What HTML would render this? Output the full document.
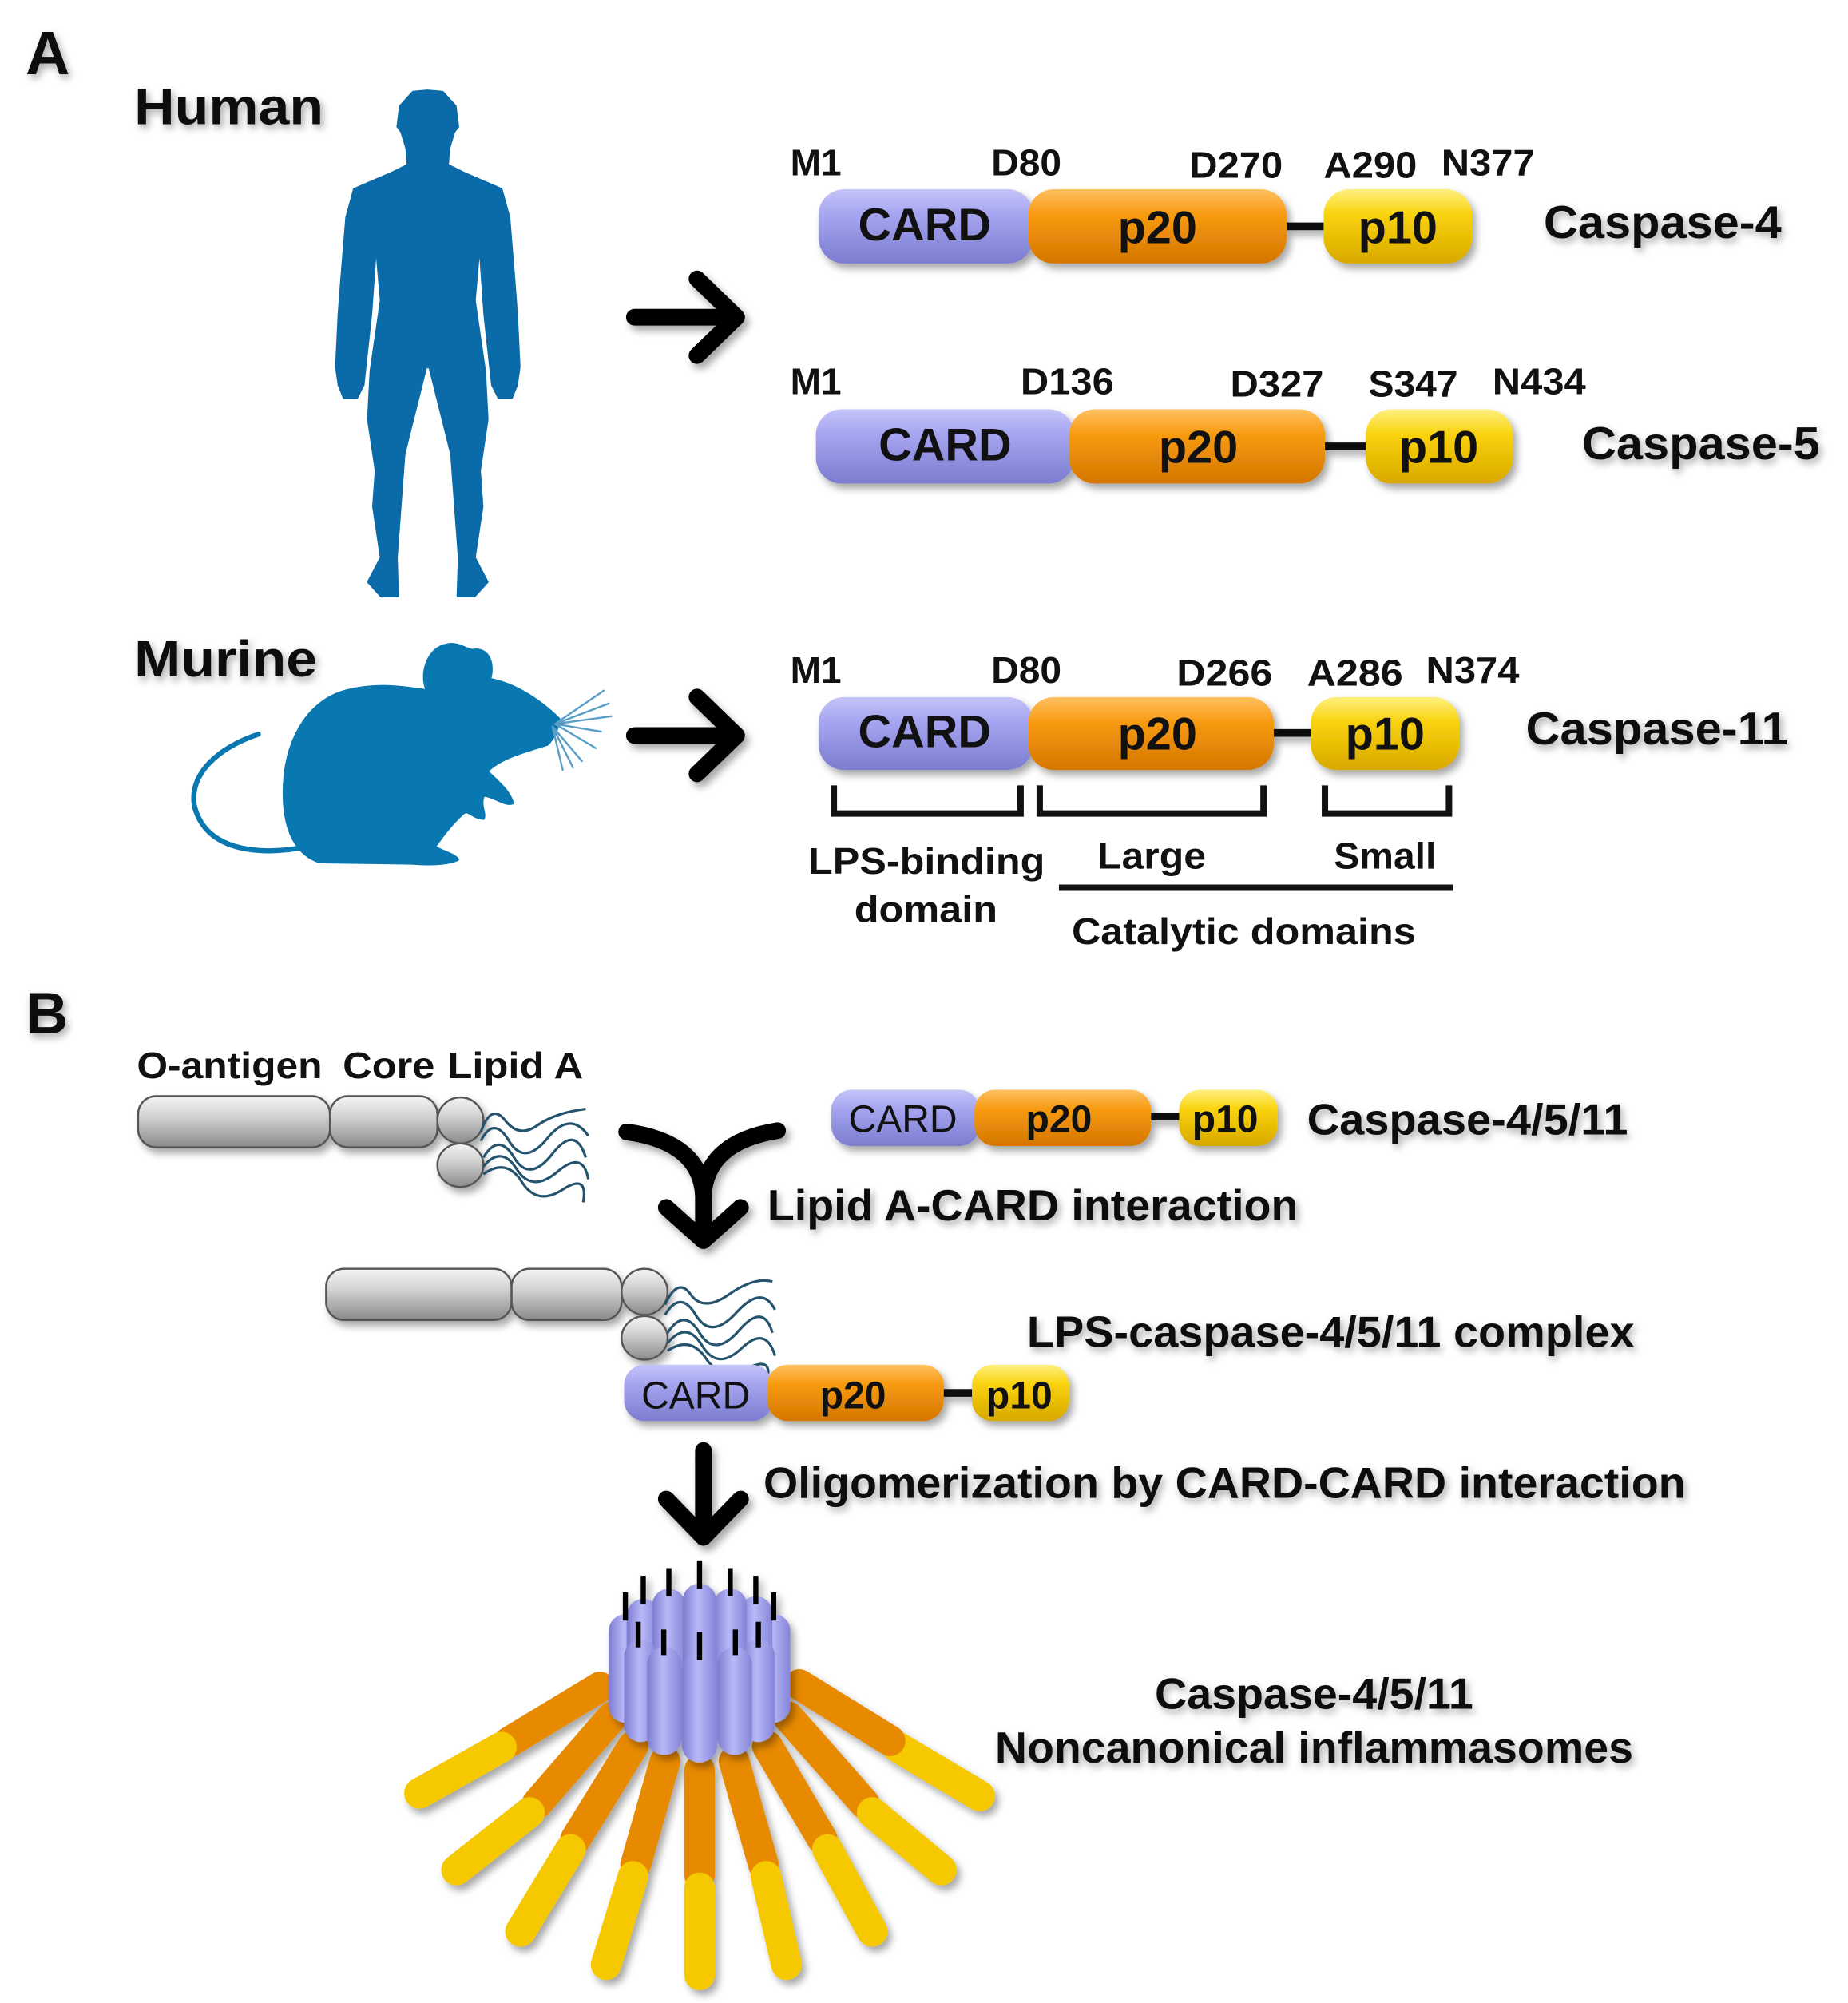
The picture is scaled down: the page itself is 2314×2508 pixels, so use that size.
<!DOCTYPE html>
<html><head><meta charset="utf-8"><style>
html,body{margin:0;padding:0;background:#fff;}
svg{display:block;}
text{font-family:"Liberation Sans",Arial,sans-serif;font-weight:bold;fill:#111;}
</style></head><body>
<svg width="2314" height="2508" viewBox="0 0 1445 1566" preserveAspectRatio="none" xmlns="http://www.w3.org/2000/svg">
<defs>
<linearGradient id="gP" x1="0" y1="0" x2="0" y2="1"><stop offset="0" stop-color="#c4c4f8"/><stop offset="0.35" stop-color="#a4a4f0"/><stop offset="1" stop-color="#7c7cd0"/></linearGradient>
<linearGradient id="gO" x1="0" y1="0" x2="0" y2="1"><stop offset="0" stop-color="#ffc060"/><stop offset="0.35" stop-color="#f79a10"/><stop offset="1" stop-color="#d47600"/></linearGradient>
<linearGradient id="gY" x1="0" y1="0" x2="0" y2="1"><stop offset="0" stop-color="#fff080"/><stop offset="0.35" stop-color="#f9d20a"/><stop offset="1" stop-color="#d8a800"/></linearGradient>
<linearGradient id="gG" x1="0" y1="0" x2="0" y2="1"><stop offset="0" stop-color="#f4f4f4"/><stop offset="0.4" stop-color="#d2d2d2"/><stop offset="1" stop-color="#8a8a8a"/></linearGradient>
<linearGradient id="gPh" x1="0" y1="0" x2="1" y2="0"><stop offset="0" stop-color="#7c7cd0"/><stop offset="0.45" stop-color="#b8b8f8"/><stop offset="1" stop-color="#8484d8"/></linearGradient>
<filter id="sh" x="-10%" y="-30%" width="130%" height="180%"><feDropShadow dx="3" dy="4" stdDeviation="3" flood-color="#000" flood-opacity="0.35"/></filter>
<filter id="ts" x="-10%" y="-40%" width="130%" height="200%"><feDropShadow dx="2" dy="3" stdDeviation="3" flood-color="#000" flood-opacity="0.35"/></filter>
</defs>

<g filter="url(#ts)" lengthAdjust="spacingAndGlyphs">
<text x="20" y="58" font-size="48">A</text>
<text x="105" y="97" font-size="40" textLength="148" lengthAdjust="spacingAndGlyphs">Human</text>
<text x="105" y="529" font-size="40" textLength="143" lengthAdjust="spacingAndGlyphs">Murine</text>
<text x="20" y="808" font-size="46">B</text>
<text x="1207" y="186" font-size="36" textLength="186" lengthAdjust="spacingAndGlyphs">Caspase-4</text>
<text x="1237" y="359" font-size="36" textLength="186" lengthAdjust="spacingAndGlyphs">Caspase-5</text>
<text x="1193" y="582" font-size="36" textLength="205" lengthAdjust="spacingAndGlyphs">Caspase-11</text>
</g>
<g font-size="29">
<text x="618" y="137" textLength="40" lengthAdjust="spacingAndGlyphs">M1</text><text x="775" y="137" textLength="55" lengthAdjust="spacingAndGlyphs">D80</text><text x="930" y="139" textLength="73" lengthAdjust="spacingAndGlyphs">D270</text><text x="1035" y="139" textLength="73" lengthAdjust="spacingAndGlyphs">A290</text><text x="1127" y="137" textLength="73" lengthAdjust="spacingAndGlyphs">N377</text>
<text x="618" y="308" textLength="40" lengthAdjust="spacingAndGlyphs">M1</text><text x="798" y="308" textLength="73" lengthAdjust="spacingAndGlyphs">D136</text><text x="962" y="310" textLength="73" lengthAdjust="spacingAndGlyphs">D327</text><text x="1070" y="310" textLength="70" lengthAdjust="spacingAndGlyphs">S347</text><text x="1167" y="308" textLength="73" lengthAdjust="spacingAndGlyphs">N434</text>
<text x="618" y="534" textLength="40" lengthAdjust="spacingAndGlyphs">M1</text><text x="775" y="534" textLength="55" lengthAdjust="spacingAndGlyphs">D80</text><text x="920" y="536" textLength="75" lengthAdjust="spacingAndGlyphs">D266</text><text x="1022" y="536" textLength="75" lengthAdjust="spacingAndGlyphs">A286</text><text x="1115" y="534" textLength="73" lengthAdjust="spacingAndGlyphs">N374</text>
</g>

<path fill="#0b6aa8" stroke="#0b6aa8" stroke-width="2" stroke-linejoin="round" d="M334,71 L346,72 L356,83 L358,99 L355,103 L351,116 L350,129 L362,135 L392,148 L398,170 L402,219 L404,246 L406,287 L404,301 L400,311 L390,311 L385,301 L379,246 L375,189 L371,235 L379,290 L381,328 L375,368 L377,396 L371,436 L381,455 L371,466 L358,466 L359,436 L355,382 L353,355 L336,287 L333,287 L316,355 L314,382 L310,436 L311,466 L298,466 L288,455 L298,436 L292,396 L294,368 L288,328 L290,290 L298,235 L294,189 L290,246 L284,301 L279,311 L269,311 L265,301 L263,287 L265,246 L267,219 L271,170 L277,148 L307,135 L319,129 L318,116 L314,103 L311,99 L313,83 L323,72 Z"/>

<g fill="#0a78b0" stroke="#0a78b0" stroke-linejoin="round">
<path stroke-width="2" d="M334,540 C328,528 334,506 350,504 C360,502 366,510 372,508 C384,508 386,522 383,531 C405,535 425,550 437,562 C436,572 432,578 428,582 C410,588 392,592 381,603 C390,612 398,618 401,628 C394,630 386,622 378,622 C375,630 380,636 378,640 C370,640 366,632 362,636 C352,645 345,655 340,662 C346,666 356,668 358,672 C350,676 335,676 322,675 L250,674 C232,668 222,650 222,620 C222,580 240,548 271,540 C295,534 315,537 334,540 Z"/>
<path fill="none" stroke-width="4" stroke-linecap="round" d="M240,662 C200,670 160,664 152,630 C148,605 170,585 202,574"/>
</g>
<g stroke="#5a9ec8" stroke-width="1.5" fill="none" stroke-linecap="round">
<path d="M434,566 L472,540 M434,566 L476,550 M434,566 L478,560 M434,566 L470,572 M434,566 L466,585 M432,568 L455,595 M432,568 L448,600 M432,568 L440,602"/>
</g>

<g stroke="#000" stroke-width="13" fill="none" stroke-linecap="round" stroke-linejoin="round" filter="url(#sh)">
<path d="M496,248 L570,248 M545,218 L576,248 L545,278"/>
<path d="M496,575 L570,575 M545,545 L576,575 L545,605"/>
</g>

<g filter="url(#sh)">
<line x1="1000" y1="177" x2="1040" y2="177" stroke="#111" stroke-width="6"/>
<rect x="640" y="148" width="168" height="58" rx="20" fill="url(#gP)"/>
<rect x="804" y="148" width="202" height="58" rx="20" fill="url(#gO)"/>
<rect x="1035" y="148" width="116" height="58" rx="20" fill="url(#gY)"/>
<line x1="1030" y1="349" x2="1072" y2="349" stroke="#111" stroke-width="6"/>
<rect x="638" y="320" width="202" height="58" rx="20" fill="url(#gP)"/>
<rect x="836" y="320" width="200" height="58" rx="20" fill="url(#gO)"/>
<rect x="1068" y="320" width="115" height="58" rx="20" fill="url(#gY)"/>
<line x1="990" y1="573" x2="1030" y2="573" stroke="#111" stroke-width="6"/>
<rect x="640" y="545" width="168" height="57" rx="20" fill="url(#gP)"/>
<rect x="804" y="545" width="192" height="57" rx="20" fill="url(#gO)"/>
<rect x="1025" y="545" width="116" height="57" rx="20" fill="url(#gY)"/>
</g>
<g font-size="36" text-anchor="middle">
<text x="723" y="188">CARD</text><text x="905" y="190">p20</text><text x="1093" y="190">p10</text>
<text x="739" y="360">CARD</text><text x="937" y="362">p20</text><text x="1125" y="362">p10</text>
<text x="723" y="584">CARD</text><text x="905" y="586">p20</text><text x="1083" y="586">p10</text>
</g>
<g stroke="#111" stroke-width="5" fill="none">
<path d="M652,614 L652,636 L798,636 L798,614"/>
<path d="M813,614 L813,636 L988,636 L988,614"/>
<path d="M1036,614 L1036,636 L1133,636 L1133,614"/>
<line x1="828" y1="694" x2="1136" y2="694"/>
</g>
<g font-size="29">
<text x="632" y="683" textLength="185" lengthAdjust="spacingAndGlyphs">LPS-binding</text><text x="668" y="721" textLength="112" lengthAdjust="spacingAndGlyphs">domain</text>
<text x="858" y="679" textLength="85" lengthAdjust="spacingAndGlyphs">Large</text><text x="1043" y="679" textLength="80" lengthAdjust="spacingAndGlyphs">Small</text>
<text x="838" y="738" textLength="269" lengthAdjust="spacingAndGlyphs">Catalytic domains</text>
</g>

<g font-size="29">
<text x="107" y="843" textLength="145" lengthAdjust="spacingAndGlyphs">O-antigen</text>
<text x="268" y="843" textLength="72" lengthAdjust="spacingAndGlyphs">Core</text>
<text x="350" y="843" textLength="106" lengthAdjust="spacingAndGlyphs">Lipid A</text>
</g>

<g filter="url(#sh)" stroke="#555" stroke-width="1.5">
<rect x="108" y="857" width="150" height="40" rx="14" fill="url(#gG)"/>
<rect x="258" y="857" width="84" height="40" rx="14" fill="url(#gG)"/>
<ellipse cx="360" cy="876" rx="18" ry="18" fill="url(#gG)"/>
<ellipse cx="360" cy="911" rx="18" ry="17" fill="url(#gG)"/>
<rect x="255" y="992" width="145" height="40" rx="14" fill="url(#gG)"/>
<rect x="400" y="992" width="86" height="40" rx="14" fill="url(#gG)"/>
<ellipse cx="504" cy="1010" rx="18" ry="18" fill="url(#gG)"/>
<ellipse cx="504" cy="1046" rx="18" ry="17" fill="url(#gG)"/>
</g>
<g stroke="#24536e" stroke-width="2" fill="none">
<path d="M376,885 Q384,862 395,876 T420,880 T458,867"/>
<path d="M376,892 Q386,872 398,892 T428,890 T460,888"/>
<path d="M378,905 Q390,885 402,905 T432,902 T458,905"/>
<path d="M378,912 Q392,895 404,914 T436,916 T460,922"/>
<path d="M378,918 Q396,905 408,924 T440,930 T456,940"/>
<path d="M520,1020 Q530,998 540,1012 T570,1012 T604,1002"/>
<path d="M520,1028 Q532,1008 544,1028 T576,1026 T606,1024"/>
<path d="M522,1042 Q535,1022 547,1042 T578,1040 T604,1042"/>
<path d="M522,1050 Q537,1032 549,1052 T580,1054 T606,1060"/>
<path d="M522,1056 Q540,1044 552,1062 T584,1070 T600,1078"/>
</g>

<g stroke="#000" stroke-width="13" fill="none" stroke-linecap="round" stroke-linejoin="round" filter="url(#sh)">
<path d="M490,885 Q548,893 550,935 L550,968"/>
<path d="M608,884 Q552,893 550,935"/>
<path d="M521,944 L550,970 L579,944"/>
<path d="M550,1134 L550,1200 M521,1172 L550,1202 L579,1172"/>
</g>

<g filter="url(#sh)">
<line x1="892" y1="873" x2="926" y2="873" stroke="#111" stroke-width="6"/>
<rect x="650" y="852" width="116" height="44" rx="16" fill="url(#gP)"/>
<rect x="762" y="852" width="138" height="44" rx="16" fill="url(#gO)"/>
<rect x="922" y="852" width="77" height="44" rx="16" fill="url(#gY)"/>
<line x1="732" y1="1089" x2="764" y2="1089" stroke="#111" stroke-width="6"/>
<rect x="488" y="1067" width="116" height="44" rx="16" fill="url(#gP)"/>
<rect x="600" y="1067" width="138" height="44" rx="16" fill="url(#gO)"/>
<rect x="760" y="1067" width="76" height="44" rx="16" fill="url(#gY)"/>
</g>
<g font-size="30" text-anchor="middle">
<text x="706" y="885" style="font-weight:normal">CARD</text><text x="828" y="885">p20</text><text x="958" y="885">p10</text>
<text x="544" y="1101" style="font-weight:normal">CARD</text><text x="667" y="1101">p20</text><text x="797" y="1101">p10</text>
</g>

<g filter="url(#ts)" font-size="34">
<text x="1022" y="887" textLength="251" lengthAdjust="spacingAndGlyphs">Caspase-4/5/11</text>
<text x="600" y="954" textLength="415" lengthAdjust="spacingAndGlyphs">Lipid A-CARD interaction</text>
<text x="803" y="1053" textLength="475" lengthAdjust="spacingAndGlyphs">LPS-caspase-4/5/11 complex</text>
<text x="597" y="1171" textLength="721" lengthAdjust="spacingAndGlyphs">Oligomerization by CARD-CARD interaction</text>
<text x="903" y="1336" textLength="249" lengthAdjust="spacingAndGlyphs">Caspase-4/5/11</text>
<text x="778" y="1378" textLength="499" lengthAdjust="spacingAndGlyphs">Noncanonical inflammasomes</text>
</g>

<g filter="url(#sh)" stroke-linecap="round" fill="none">
<g stroke-width="24">
<line x1="469" y1="1319" x2="398" y2="1362" stroke="#e88a00"/>
<line x1="392" y1="1366" x2="328" y2="1402" stroke="#f5c800"/>
<line x1="766" y1="1404" x2="702" y2="1366" stroke="#f5c800"/>
<line x1="625" y1="1317" x2="696" y2="1361" stroke="#e88a00"/>
<line x1="479" y1="1342" x2="420" y2="1410" stroke="#e88a00"/>
<line x1="414" y1="1417" x2="357" y2="1462" stroke="#f5c800"/>
<line x1="616" y1="1342" x2="676" y2="1410" stroke="#e88a00"/>
<line x1="682" y1="1417" x2="736" y2="1462" stroke="#f5c800"/>
<line x1="495" y1="1365" x2="450" y2="1438" stroke="#e88a00"/>
<line x1="446" y1="1446" x2="407" y2="1510" stroke="#f5c800"/>
<line x1="600" y1="1365" x2="643" y2="1438" stroke="#e88a00"/>
<line x1="647" y1="1446" x2="682" y2="1510" stroke="#f5c800"/>
<line x1="520" y1="1377" x2="497" y2="1458" stroke="#e88a00"/>
<line x1="495" y1="1467" x2="474" y2="1536" stroke="#f5c800"/>
<line x1="574" y1="1377" x2="597" y2="1458" stroke="#e88a00"/>
<line x1="599" y1="1467" x2="615" y2="1536" stroke="#f5c800"/>
<line x1="547" y1="1384" x2="547" y2="1466" stroke="#e88a00"/>
<line x1="547" y1="1476" x2="547" y2="1544" stroke="#f5c800"/>
</g>
</g>
<g filter="url(#sh)">
<g fill="url(#gPh)">
<rect x="476" y="1262" width="26" height="85" rx="13"/>
<rect x="592" y="1262" width="26" height="85" rx="13"/>
<rect x="490" y="1250" width="26" height="90" rx="13"/>
<rect x="578" y="1248" width="26" height="90" rx="13"/>
<rect x="510" y="1242" width="26" height="92" rx="13"/>
<rect x="558" y="1242" width="26" height="92" rx="13"/>
<rect x="534" y="1238" width="26" height="92" rx="13"/>
</g>
<g fill="#000">
<rect x="487" y="1245" width="4" height="22"/><rect x="603" y="1245" width="4" height="22"/>
<rect x="501" y="1232" width="4" height="22"/><rect x="589" y="1232" width="4" height="22"/>
<rect x="521" y="1226" width="4" height="22"/><rect x="569" y="1226" width="4" height="22"/>
<rect x="545" y="1220" width="4" height="22"/>
</g>
<g fill="url(#gPh)">
<rect x="488" y="1282" width="26" height="80" rx="13"/>
<rect x="580" y="1282" width="26" height="80" rx="13"/>
<rect x="506" y="1288" width="27" height="84" rx="13"/>
<rect x="561" y="1288" width="27" height="84" rx="13"/>
<rect x="533" y="1292" width="28" height="86" rx="14"/>
</g>
<g fill="#000">
<rect x="497" y="1268" width="4" height="20"/><rect x="591" y="1268" width="4" height="20"/>
<rect x="517" y="1274" width="4" height="20"/><rect x="573" y="1274" width="4" height="20"/>
<rect x="545" y="1276" width="4" height="22"/>
</g>
</g>
</svg>
</body></html>
